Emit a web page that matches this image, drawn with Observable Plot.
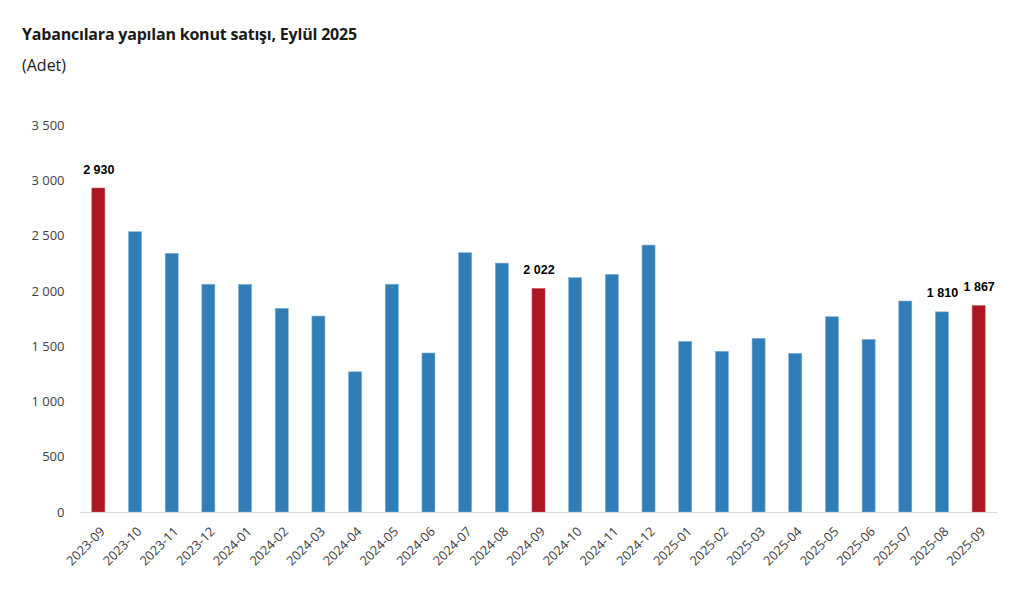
<!DOCTYPE html>
<html>
<head>
<meta charset="utf-8">
<script src="https://cdn.jsdelivr.net/npm/d3@7"></script>
<script src="https://cdn.jsdelivr.net/npm/@observablehq/plot@0.6"></script>
<style>
  html, body { margin: 0; padding: 0; background: #fff; }
  #wrap { width: 1025px; height: 602px; position: relative; overflow: hidden; }
  #head { height: 90px; position: relative; }
  #title { position: absolute; left: 22px; top: 23px; font-family: "Open Sans", sans-serif; font-weight: 700; font-size: 16px; color: #1a1a1a; letter-spacing: -0.2px; }
  #sub { position: absolute; left: 22px; top: 54px; font-family: "Open Sans", sans-serif; font-size: 16px; color: #1a1a1a; }
  svg { display: block; }
</style>
</head>
<body>
<div id="wrap">
  <div id="head">
    <div id="title">Yabancılara yapılan konut satışı, Eylül 2025</div>
    <div id="sub">(Adet)</div>
  </div>
  <div id="chart"></div>
</div>
<script>
const months = ["2023-09","2023-10","2023-11","2023-12","2024-01","2024-02","2024-03","2024-04","2024-05","2024-06","2024-07","2024-08","2024-09","2024-10","2024-11","2024-12","2025-01","2025-02","2025-03","2025-04","2025-05","2025-06","2025-07","2025-08","2025-09"];
const sales = [2930,2535,2340,2060,2058,1842,1772,1268,2060,1438,2345,2251,2022,2119,2149,2414,1543,1453,1570,1435,1766,1561,1908,1810,1867];
const highlighted = ["2023-09","2024-09","2025-09"];
const labelled = ["2023-09","2024-09","2025-08","2025-09"];
const yTicks = [0,500,1000,1500,2000,2500,3000,3500];

const data = months.map((m, i) => ({month: m, value: sales[i], hl: highlighted.includes(m)}));
const fmt = d => d3.format(",")(d).replace(/,/g, " ");

const chart = Plot.plot({
  width: 1025,
  height: 512,
  marginTop: 35,
  marginBottom: 90,
  marginLeft: 80,
  marginRight: 28,
  style: {fontFamily: "'Open Sans', sans-serif", fontSize: "12px", color: "#404040", background: "#fff"},
  x: {domain: months, paddingInner: 0.645, paddingOuter: 0.3225, round: false, label: null},
  y: {domain: [0, 3500], label: null},
  marks: [
    Plot.barY(data, {x: "month", y: "value", fill: d => d.hl ? "#AB1620" : "#317DB7", stroke: d => d.hl ? "#C9585E" : "#7FB0D6", strokeWidth: 0.6}),
    Plot.ruleY([0], {stroke: "#d9d9d9", strokeWidth: 1.2}),
    Plot.ruleX([0], {frameAnchor: "left", stroke: "#d9d9d9", strokeWidth: 1.2}),
    Plot.axisY({ticks: yTicks, tickSize: 0, tickPadding: 16, tickFormat: fmt, fontSize: 13, fill: "#404040"}),
    Plot.axisX({tickSize: 0, tickPadding: 17, dx: 4, tickRotate: -45, fontSize: 12.8, fill: "#3a3a3a"}),
    Plot.text(data.filter(d => labelled.includes(d.month)), {x: "month", y: "value", text: d => fmt(d.value), dy: -19, fontFamily: "'Liberation Sans', Arial, sans-serif", fontWeight: "bold", fontSize: 12.5, fill: "#000"})
  ]
});
document.getElementById("chart").appendChild(chart);
</script>
</body>
</html>
